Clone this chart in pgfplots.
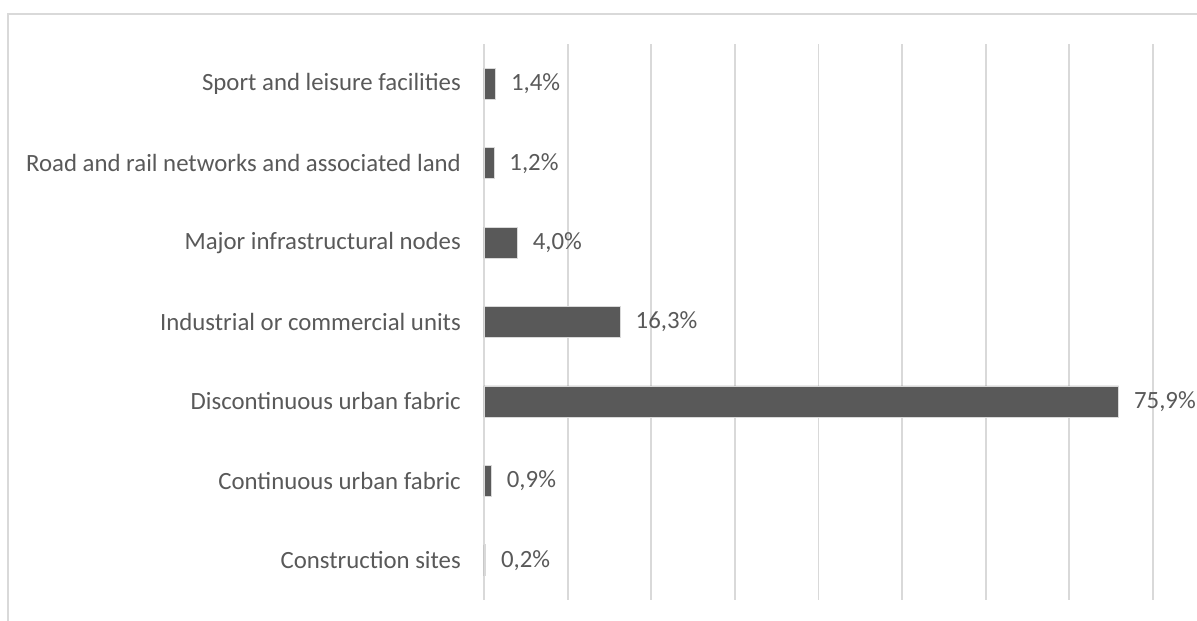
\documentclass[border=0pt]{standalone}
\usepackage{fontspec}
\setmainfont{Carlito}
\usepackage{pgfplots}
\pgfplotsset{compat=1.18}
\definecolor{bargray}{HTML}{595959}
\definecolor{gridgray}{HTML}{D9D9D9}
\definecolor{txtgray}{HTML}{595959}
\begin{document}
\begin{tikzpicture}[x=1pt,y=1pt]
\useasboundingbox (0,0) rectangle (1197,621);
\draw[gridgray, line width=1.5pt] (8,-2) -- (8,607) -- (1199,607);
\begin{axis}[
  at={(484pt,21pt)}, anchor=south west,
  scale only axis, width=669pt, height=556pt,
  xbar, bar width=0.39,
  xmin=0, xmax=80, ymin=-0.5, ymax=6.5,
  xtick={0,10,...,80}, xticklabels={},
  ytick={0,...,6},
  yticklabels={Construction sites,Continuous urban fabric,Discontinuous urban fabric,Industrial or commercial units,Major infrastructural nodes,Road and rail networks and associated land,Sport and leisure facilities},
  xmajorgrids, major grid style={gridgray, line width=1.8pt},
  major tick length=0pt,
  axis line style={draw=none},
  tick style={draw=none},
  font=\fontsize{24.8}{29}\selectfont,
  y tick label style={txtgray, inner sep=0pt, anchor=east, xshift=-23pt},
  /pgf/number format/assume math mode=true,
  nodes near coords={\pgfmathprintnumber[fixed,fixed zerofill,precision=1,use comma]{\pgfplotspointmeta}\%},
  nodes near coords style={txtgray, anchor=west, inner sep=0pt, xshift=15pt},
]
\addplot[fill=bargray, draw=gridgray, line width=0.8pt] coordinates {
  (0.2,0) (0.9,1) (75.9,2) (16.3,3) (4.0,4) (1.2,5) (1.4,6)
};
\end{axis}
\end{tikzpicture}
\end{document}
